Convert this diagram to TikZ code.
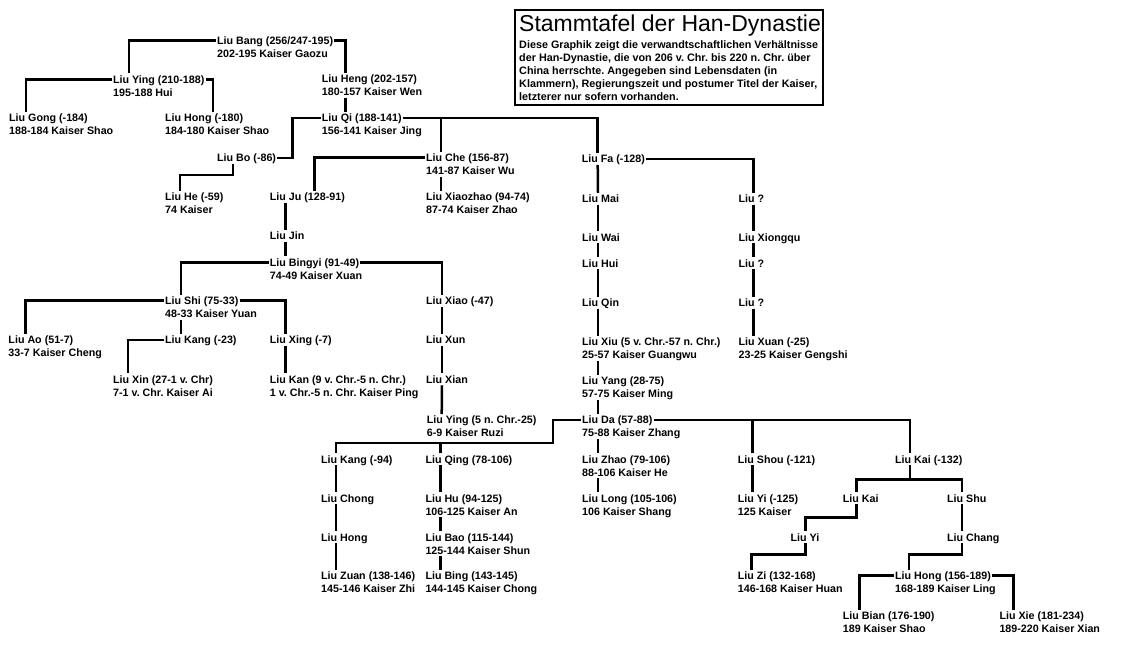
\documentclass[tikz,border=0pt]{standalone}
\usepackage{fontspec}
\setmainfont{Liberation Sans}
\usepackage{tikz}
\frenchspacing
\tikzset{link/.style = {line width=2.5pt},
         nm/.style = {anchor=west, inner xsep=1pt, inner ysep=2pt,
                      text height=7.5pt, text depth=0pt,
                      font=\fontsize{10.7}{13}\selectfont\bfseries}}

\begin{document}
\begin{tikzpicture}[x=1pt, y=-1pt]
      \fill[white] (0,0) rectangle (1130,657);
      \useasboundingbox (0,0) rectangle (1130,657);

      \draw[line width=1.6pt] (515,10) rectangle (823,105);
      \node[anchor=base west, inner sep=0, font=\fontsize{23}{27}\selectfont] (title) at (519,31.7) {Stammtafel der Han-Dynastie};
      \node[anchor=north west, inner sep=0, align=left, font=\fontsize{10.8}{13}\selectfont\bfseries] (info) at (519,39.6)
           {\strut Diese Graphik zeigt die verwandtschaftlichen Verhältnisse\\
            der Han-Dynastie, die von 206 v. Chr. bis 220 n. Chr. über\\
            China herrschte. Angegeben sind Lebensdaten (in\\
            Klammern), Regierungszeit und postumer Titel der Kaiser,\\
            letzterer nur sofern vorhanden.};

      \node[nm] (bang) at (216,40.7) {Liu Bang (256/247-195)};
      \node[nm] (bangR) at ([yshift=-13pt]bang.west) {202-195 Kaiser Gaozu};
      \node[nm] (ying) at (112,79.3) {Liu Ying (210-188)};
      \node[nm] (yingR) at ([yshift=-13pt]ying.west) {195-188 Hui};
      \node[nm] (heng) at (320.7,79) {Liu Heng (202-157)};
      \node[nm] (hengR) at ([yshift=-13pt]heng.west) {180-157 Kaiser Wen};
      \node[nm] (gong) at (8,118) {Liu Gong (-184)};
      \node[nm] (gongR) at ([yshift=-13pt]gong.west) {188-184 Kaiser Shao};
      \node[nm] (hongA) at (164,118) {Liu Hong (-180)};
      \node[nm] (hongAR) at ([yshift=-13pt]hongA.west) {184-180 Kaiser Shao};
      \node[nm] (qi) at (320.7,118) {Liu Qi (188-141)};
      \node[nm] (qiR) at ([yshift=-13pt]qi.west) {156-141 Kaiser Jing};
      \node[nm] (bo) at (216,158) {Liu Bo (-86)};
      \node[nm] (che) at (425,157.7) {Liu Che (156-87)};
      \node[nm] (cheR) at ([yshift=-13pt]che.west) {141-87 Kaiser Wu};
      \node[nm] (fa) at (580.7,159) {Liu Fa (-128)};
      \node[nm] (he) at (164,197) {Liu He (-59)};
      \node[nm] (heR) at ([yshift=-13pt]he.west) {74 Kaiser};
      \node[nm] (ju) at (268.7,197) {Liu Ju (128-91)};
      \node[nm] (xiaozhao) at (425,197) {Liu Xiaozhao (94-74)};
      \node[nm] (xiaozhaoR) at ([yshift=-13pt]xiaozhao.west) {87-74 Kaiser Zhao};
      \node[nm] (mai) at (581,198.7) {Liu Mai};
      \node[nm] (unkA) at (737.5,198.7) {Liu ?};
      \node[nm] (jin) at (268.7,236) {Liu Jin};
      \node[nm] (wai) at (581,237.3) {Liu Wai};
      \node[nm] (xiongqu) at (737.5,237.3) {Liu Xiongqu};
      \node[nm] (bingyi) at (268.7,262.3) {Liu Bingyi (91-49)};
      \node[nm] (bingyiR) at ([yshift=-13pt]bingyi.west) {74-49 Kaiser Xuan};
      \node[nm] (hui) at (581,263.3) {Liu Hui};
      \node[nm] (unkB) at (737.5,263.3) {Liu ?};
      \node[nm] (shi) at (164,300.7) {Liu Shi (75-33)};
      \node[nm] (shiR) at ([yshift=-13pt]shi.west) {48-33 Kaiser Yuan};
      \node[nm] (xiao) at (425,301) {Liu Xiao (-47)};
      \node[nm] (qin) at (581,302.7) {Liu Qin};
      \node[nm] (unkC) at (737.5,302.7) {Liu ?};
      \node[nm] (ao) at (7.3,340) {Liu Ao (51-7)};
      \node[nm] (aoR) at ([yshift=-13pt]ao.west) {33-7 Kaiser Cheng};
      \node[nm] (kangA) at (164,340) {Liu Kang (-23)};
      \node[nm] (xing) at (268.7,340) {Liu Xing (-7)};
      \node[nm] (xun) at (425,340) {Liu Xun};
      \node[nm] (xiu) at (581,342) {Liu Xiu (5 v. Chr.-57 n. Chr.)};
      \node[nm] (xiuR) at ([yshift=-13pt]xiu.west) {25-57 Kaiser Guangwu};
      \node[nm] (xuan) at (737.5,342) {Liu Xuan (-25)};
      \node[nm] (xuanR) at ([yshift=-13pt]xuan.west) {23-25 Kaiser Gengshi};
      \node[nm] (xin) at (112,379.3) {Liu Xin (27-1 v. Chr)};
      \node[nm] (xinR) at ([yshift=-13pt]xin.west) {7-1 v. Chr. Kaiser Ai};
      \node[nm] (kan) at (268.7,379.3) {Liu Kan (9 v. Chr.-5 n. Chr.)};
      \node[nm] (kanR) at ([yshift=-13pt]kan.west) {1 v. Chr.-5 n. Chr. Kaiser Ping};
      \node[nm] (xian) at (425,379.3) {Liu Xian};
      \node[nm] (yang) at (581,381) {Liu Yang (28-75)};
      \node[nm] (yangR) at ([yshift=-13pt]yang.west) {57-75 Kaiser Ming};
      \node[nm] (yingB) at (425.7,420) {Liu Ying (5 n. Chr.-25)};
      \node[nm] (yingBR) at ([yshift=-13pt]yingB.west) {6-9 Kaiser Ruzi};
      \node[nm] (da) at (581,420) {Liu Da (57-88)};
      \node[nm] (daR) at ([yshift=-13pt]da.west) {75-88 Kaiser Zhang};
      \node[nm] (kangB) at (320,459.3) {Liu Kang (-94)};
      \node[nm] (qing) at (424.3,459.3) {Liu Qing (78-106)};
      \node[nm] (zhao) at (581,459.3) {Liu Zhao (79-106)};
      \node[nm] (zhaoR) at ([yshift=-13pt]zhao.west) {88-106 Kaiser He};
      \node[nm] (shou) at (736.7,459.3) {Liu Shou (-121)};
      \node[nm] (kaiA) at (894,459.3) {Liu Kai (-132)};
      \node[nm] (chong) at (320,498.3) {Liu Chong};
      \node[nm] (hu) at (424.3,498.3) {Liu Hu (94-125)};
      \node[nm] (huR) at ([yshift=-13pt]hu.west) {106-125 Kaiser An};
      \node[nm] (long) at (581,498.3) {Liu Long (105-106)};
      \node[nm] (longR) at ([yshift=-13pt]long.west) {106 Kaiser Shang};
      \node[nm] (yiA) at (736.7,498.3) {Liu Yi (-125)};
      \node[nm] (yiAR) at ([yshift=-13pt]yiA.west) {125 Kaiser};
      \node[nm] (kaiB) at (841.7,498.3) {Liu Kai};
      \node[nm] (shu) at (946,498.3) {Liu Shu};
      \node[nm] (hongB) at (320,537.3) {Liu Hong};
      \node[nm] (bao) at (424.3,537.3) {Liu Bao (115-144)};
      \node[nm] (baoR) at ([yshift=-13pt]bao.west) {125-144 Kaiser Shun};
      \node[nm] (yiB) at (789.3,537.3) {Liu Yi};
      \node[nm] (chang) at (946,537.3) {Liu Chang};
      \node[nm] (zuan) at (320,576) {Liu Zuan (138-146)};
      \node[nm] (zuanR) at ([yshift=-13pt]zuan.west) {145-146 Kaiser Zhi};
      \node[nm] (bing) at (424.3,576) {Liu Bing (143-145)};
      \node[nm] (bingR) at ([yshift=-13pt]bing.west) {144-145 Kaiser Chong};
      \node[nm] (zi) at (736.7,575.5) {Liu Zi (132-168)};
      \node[nm] (ziR) at ([yshift=-13pt]zi.west) {146-168 Kaiser Huan};
      \node[nm] (hongC) at (894,575.5) {Liu Hong (156-189)};
      \node[nm] (hongCR) at ([yshift=-13pt]hongC.west) {168-189 Kaiser Ling};
      \node[nm] (bian) at (841.7,616) {Liu Bian (176-190)};
      \node[nm] (bianR) at ([yshift=-13pt]bian.west) {189 Kaiser Shao};
      \node[nm] (xie) at (998.3,616) {Liu Xie (181-234)};
      \node[nm] (xieR) at ([yshift=-13pt]xie.west) {189-220 Kaiser Xian};

      \draw[link] (bang.east) -| ([xshift=25pt]heng.north west);
      \draw[link] (bang.west) -| ([xshift=17pt]ying.north west);
      \draw[link] (ying.west) -| ([xshift=18pt]gong.north west);
      \draw[link] (ying.east) -| ([xshift=49pt]hongA.north west);
      \draw[link] ([xshift=25pt]hengR.south west) -- ([xshift=25pt]qi.north west);
      \draw[link] (qi.west) -- ++(-28,0) |- (bo.east);
      \draw[link] ([xshift=17pt]bo.south west) -- ++(0,11) -| ([xshift=16pt]he.north west);
      \draw[link] (qi.east) -| ([xshift=17pt]fa.north west);
      \draw[link] ([xshift=16pt]che.north west) |- (qi.east);
      \draw[link] (che.west) -| ([xshift=46pt]ju.north west);
      \draw[link] ([xshift=16pt]cheR.south west) -- ([xshift=16pt]xiaozhao.north west);
      \draw[link] ([xshift=17pt]ju.south west) -- ([xshift=17pt]jin.north west);
      \draw[link] ([xshift=17pt]jin.south west) -- ([xshift=17pt]bingyi.north west);
      \draw[link] (bingyi.west) -| ([xshift=17pt]shi.north west);
      \draw[link] (bingyi.east) -| ([xshift=17pt]xiao.north west);
      \draw[link] (shi.west) -| ([xshift=18pt]ao.north west);
      \draw[link] (shi.east) -| ([xshift=17pt]xing.north west);
      \draw[link] ([xshift=17pt]shiR.south west) -- ([xshift=17pt]kangA.north west);
      \draw[link] (kangA.west) -| ([xshift=16pt]xin.north west);
      \draw[link] ([xshift=17pt]xing.south west) -- ([xshift=17pt]kan.north west);
      \draw[link] ([xshift=17pt]xiao.south west) -- ([xshift=17pt]xun.north west);
      \draw[link] ([xshift=17pt]xun.south west) -- ([xshift=17pt]xian.north west);
      \draw[link] ([xshift=17pt]xian.south west) -- ([xshift=16pt]yingB.north west);

      \draw[link] ([xshift=17pt]fa.south west) -- ([xshift=17pt]mai.north west);
      \draw[link] ([xshift=17pt]mai.south west) -- ([xshift=17pt]wai.north west);
      \draw[link] ([xshift=17pt]wai.south west) -- ([xshift=17pt]hui.north west);
      \draw[link] ([xshift=17pt]hui.south west) -- ([xshift=17pt]qin.north west);
      \draw[link] ([xshift=17pt]qin.south west) -- ([xshift=17pt]xiu.north west);
      \draw[link] ([xshift=17pt]xiuR.south west) -- ([xshift=17pt]yang.north west);
      \draw[link] ([xshift=17pt]yangR.south west) -- ([xshift=17pt]da.north west);
      \draw[link] (fa.east) -| ([xshift=16pt]unkA.north west);
      \draw[link] ([xshift=16pt]unkA.south west) -- ([xshift=16pt]xiongqu.north west);
      \draw[link] ([xshift=16pt]xiongqu.south west) -- ([xshift=16pt]unkB.north west);
      \draw[link] ([xshift=16pt]unkB.south west) -- ([xshift=16pt]unkC.north west);
      \draw[link] ([xshift=16pt]unkC.south west) -- ([xshift=16pt]xuan.north west);

      \draw[link] (da.east) -| ([xshift=16pt]kaiA.north west);
      \draw[link] ([xshift=16pt]shou.north west) |- (da.east);
      \draw[link] (da.west) -- ++(-28,0) -- ++(0,23) coordinate (daFork) -| ([xshift=16pt]kangB.north west);
      \draw[link] ([xshift=16pt]qing.north west) |- (daFork);
      \draw[link] ([xshift=17pt]daR.south west) -- ([xshift=17pt]zhao.north west);
      \draw[link] ([xshift=17pt]zhaoR.south west) -- ([xshift=17pt]long.north west);
      \draw[link] ([xshift=16pt]kangB.south west) -- ([xshift=16pt]chong.north west);
      \draw[link] ([xshift=16pt]chong.south west) -- ([xshift=16pt]hongB.north west);
      \draw[link] ([xshift=16pt]hongB.south west) -- ([xshift=16pt]zuan.north west);
      \draw[link] ([xshift=16pt]qing.south west) -- ([xshift=16pt]hu.north west);
      \draw[link] ([xshift=16pt]huR.south west) -- ([xshift=16pt]bao.north west);
      \draw[link] ([xshift=16pt]baoR.south west) -- ([xshift=16pt]bing.north west);
      \draw[link] ([xshift=16pt]shou.south west) -- ([xshift=16pt]yiA.north west);

      \draw[link] ([xshift=16pt]kaiA.south west) -- ++(0,14) coordinate (kaiFork);
      \draw[link] ([xshift=15pt]kaiB.north west) |- (kaiFork) -| ([xshift=16pt]shu.north west);
      \draw[link] ([xshift=15pt]kaiB.south west) -- ++(0,13) -| ([xshift=16pt]yiB.north west);
      \draw[link] ([xshift=16pt]yiB.south west) -- ++(0,11) -| ([xshift=15pt]zi.north west);
      \draw[link] ([xshift=16pt]shu.south west) -- ([xshift=16pt]chang.north west);
      \draw[link] ([xshift=16pt]chang.south west) -- ++(0,11) -| ([xshift=15pt]hongC.north west);
      \draw[link] (hongC.west) -| ([xshift=18pt]bian.north west);
      \draw[link] (hongC.east) -| ([xshift=15pt]xie.north west);
\end{tikzpicture}
\end{document}
